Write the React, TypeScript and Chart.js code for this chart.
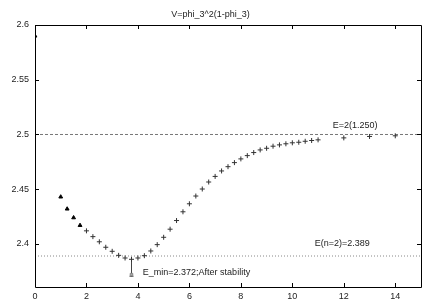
import React, { useEffect, useRef } from 'react';
import { Chart, registerables } from 'chart.js';

Chart.register(...registerables);

const TITLE = 'V=phi_3^2(1-phi_3)';
const X_TICKS = [0, 2, 4, 6, 8, 10, 12, 14];
const Y_TICKS = [2.4, 2.45, 2.5, 2.55, 2.6];
const X_MIN = 0;
const X_MAX = 15;
const Y_MIN = 2.3607;
const Y_MAX = 2.6;

// early (triangle) points
const earlyX = [0, 1, 1.25, 1.5, 1.75];
const earlyY = [2.59, 2.443, 2.432, 2.424, 2.417];

// later (cross) points
const stepX = [
  2, 2.25, 2.5, 2.75, 3, 3.25, 3.5, 3.75, 4, 4.25, 4.5, 4.75, 5, 5.25, 5.5, 5.75,
  6, 6.25, 6.5, 6.75, 7, 7.25, 7.5, 7.75, 8, 8.25, 8.5, 8.75, 9, 9.25, 9.5, 9.75,
  10, 10.25, 10.5, 10.75, 11, 12, 13, 14,
];
const stepY = [
  2.412, 2.4067, 2.402, 2.397, 2.3933, 2.3896, 2.3872, 2.386, 2.3872, 2.3893, 2.3936, 2.3994,
  2.4061, 2.4135, 2.4214, 2.4294, 2.4367, 2.4438, 2.4502, 2.4566, 2.4617, 2.4667, 2.4706,
  2.4743, 2.4777, 2.4807, 2.4835, 2.4859, 2.4874, 2.4893, 2.4905, 2.4915, 2.4924, 2.4929,
  2.4938, 2.4945, 2.4951, 2.4969, 2.4982, 2.4988,
];

// reference levels
const refLevels = [2.5, 2.389];
const refLabels = ['E=2(1.250)', 'E(n=2)=2.389'];

// minimum marker
const eminX = 3.75;
const eminValue = 2.372;
const errTop = 2.3875;
const errBottom = 2.3705;
const noteText = 'E_min=2.372;After stability';

// annotation anchors (data units)
const noteAnchorsX = [11.57, 10.87, 4.19];
const noteAnchorsY = [2.5078, 2.4, 2.3735];
const noteTexts = [refLabels[0], refLabels[1], noteText];

const FONT = '"Liberation Sans", Arial, Helvetica, sans-serif';

const framePlugin = {
  id: 'gnuplotFrame',
  afterDatasetsDraw(chart: any) {
    const { ctx, chartArea } = chart;
    const { left, right, top, bottom } = chartArea;
    const xs = chart.scales.x;
    const ys = chart.scales.y;
    ctx.save();
    ctx.strokeStyle = '#000';
    ctx.lineWidth = 1;
    ctx.beginPath();
    ctx.rect(Math.round(left) + 0.5, Math.round(top) + 0.5, Math.round(right - left), Math.round(bottom - top));
    ctx.stroke();
    const tl = 4;
    ctx.beginPath();
    xs.ticks.forEach((t: any) => {
      const px = Math.round(xs.getPixelForValue(t.value)) + 0.5;
      ctx.moveTo(px, bottom);
      ctx.lineTo(px, bottom - tl);
      ctx.moveTo(px, top);
      ctx.lineTo(px, top + tl);
    });
    ys.ticks.forEach((t: any) => {
      const py = Math.round(ys.getPixelForValue(t.value)) + 0.5;
      ctx.moveTo(left, py);
      ctx.lineTo(left + tl, py);
      ctx.moveTo(right, py);
      ctx.lineTo(right - tl, py);
    });
    ctx.stroke();

    ctx.fillStyle = '#222';
    ctx.font = '9px ' + FONT;
    ctx.textAlign = 'left';
    ctx.textBaseline = 'middle';
    noteTexts.forEach((txt, i) => {
      ctx.fillText(txt, xs.getPixelForValue(noteAnchorsX[i]), ys.getPixelForValue(noteAnchorsY[i]));
    });
    ctx.restore();
  },
};

export default function App() {
  const ref = useRef<HTMLCanvasElement | null>(null);

  useEffect(() => {
    if (!ref.current) return;
    const chart = new Chart(ref.current, {
      type: 'scatter',
      data: {
        datasets: [
          {
            type: 'line',
            data: [
              { x: X_MIN, y: refLevels[0] },
              { x: X_MAX, y: refLevels[0] },
            ],
            borderColor: '#777',
            borderWidth: 1,
            borderDash: [3, 2],
            pointRadius: 0,
            order: 5,
          },
          {
            type: 'line',
            data: [
              { x: X_MIN, y: refLevels[1] },
              { x: X_MAX, y: refLevels[1] },
            ],
            borderColor: '#888',
            borderWidth: 1,
            borderDash: [1, 2],
            pointRadius: 0,
            order: 5,
          },
          {
            type: 'line',
            data: [
              { x: eminX, y: errTop },
              { x: eminX, y: errBottom },
            ],
            borderColor: '#444',
            borderWidth: 1,
            pointRadius: [0, 2],
            pointStyle: 'line',
            pointBorderColor: '#444',
            order: 4,
          },
          {
            data: [{ x: eminX, y: eminValue }],
            pointStyle: 'rect',
            pointRadius: 1.8,
            backgroundColor: '#aaa',
            borderColor: '#888',
            borderWidth: 1,
            order: 3,
          },
          {
            data: earlyX.map((x, i) => ({ x, y: earlyY[i] })),
            pointStyle: 'triangle',
            pointRadius: 2.2,
            backgroundColor: '#000',
            borderColor: '#000',
            borderWidth: 1,
            order: 1,
          },
          {
            data: stepX.map((x, i) => ({ x, y: stepY[i] })),
            pointStyle: 'cross',
            pointRadius: 2.5,
            backgroundColor: '#333',
            borderColor: '#333',
            borderWidth: 1,
            order: 2,
          },
        ],
      },
      options: {
        animation: false,
        responsive: false,
        layout: { padding: { left: 0, right: 15, top: 0, bottom: 0 } },
        plugins: {
          legend: { display: false },
          tooltip: { enabled: false },
          title: {
            display: true,
            text: TITLE,
            color: '#222',
            font: { family: FONT, size: 9, weight: 'normal', lineHeight: 1.2 },
            padding: { top: 9, bottom: 5.2 },
          },
        },
        scales: {
          x: {
            type: 'linear',
            min: X_MIN,
            max: X_MAX,
            grid: { display: false, drawTicks: false },
            border: { display: false },
            afterBuildTicks: (s: any) => {
              s.ticks = X_TICKS.map((v) => ({ value: v }));
            },
            afterFit: (s: any) => {
              s.height = 18;
            },
            ticks: {
              color: '#222',
              padding: 4,
              font: { family: FONT, size: 9 },
              maxRotation: 0,
              autoSkip: false,
            },
          },
          y: {
            type: 'linear',
            min: Y_MIN,
            max: Y_MAX,
            grid: { display: false, drawTicks: false },
            border: { display: false },
            afterBuildTicks: (s: any) => {
              s.ticks = Y_TICKS.map((v) => ({ value: v }));
            },
            afterFit: (s: any) => {
              s.width = 35;
            },
            ticks: {
              color: '#222',
              padding: 6,
              font: { family: FONT, size: 9 },
              autoSkip: false,
              callback: (v: any) => String(Number(v)),
            },
          },
        },
      },
      plugins: [framePlugin],
    });
    return () => chart.destroy();
  }, []);

  return (
    <div style={{ position: 'fixed', left: 0, top: 0, width: 436, height: 305, background: '#fff' }}>
      <canvas ref={ref} width={436} height={305} style={{ display: 'block' }} />
    </div>
  );
}
